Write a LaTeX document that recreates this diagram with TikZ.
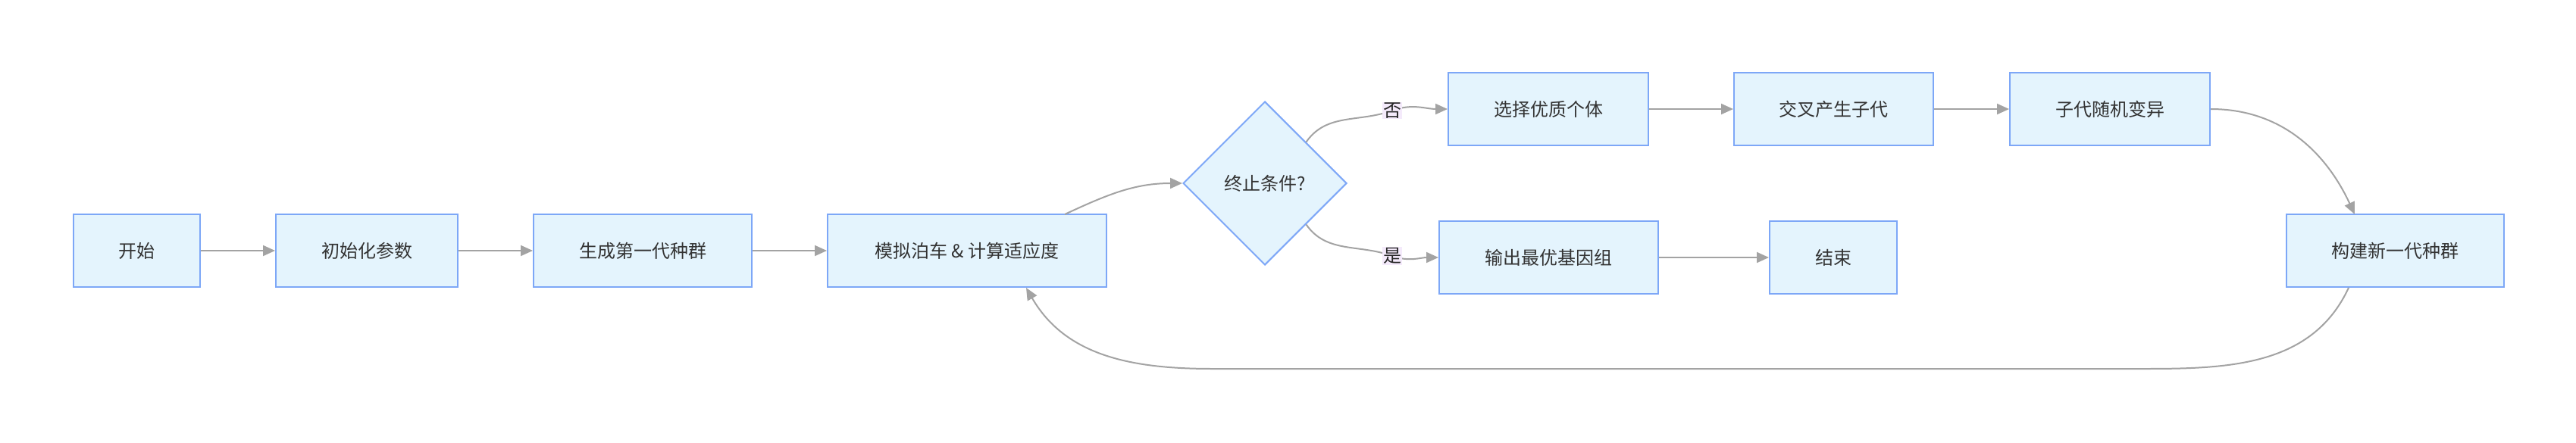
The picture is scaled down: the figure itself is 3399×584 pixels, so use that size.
\documentclass[tikz,border=0pt]{standalone}
\usepackage{fontspec}
\setmainfont{Noto Sans CJK SC}
\usetikzlibrary{shapes.geometric,arrows.meta}
\definecolor{boxfill}{HTML}{E4F4FD}
\definecolor{boxline}{HTML}{7DA7F7}
\definecolor{linkgray}{HTML}{A3A3A3}
\definecolor{labelbg}{HTML}{F4EAFB}
\tikzset{
  stepbox/.style={draw=boxline, fill=boxfill, line width=2pt, minimum height=96pt, inner sep=0pt,
    text=black!80, font=\fontsize{24}{28}\selectfont},
  link/.style={draw=linkgray, line width=2pt, -{Triangle[length=16pt,width=14pt]}},
  edgelabel/.style={fill=labelbg, inner sep=1pt, text=black!85, font=\fontsize{24}{28}\selectfont}
}
\newcommand{\StepBox}[4]{\node[stepbox, minimum width=#3pt] (#1) at #2 {#4};}

\begin{document}
\begin{tikzpicture}
\useasboundingbox (0,0) rectangle (3399pt,-584pt);

\StepBox{start}{(180.5pt,-331pt)}{167}{开始}
\StepBox{init}{(484pt,-331pt)}{240}{初始化参数}
\StepBox{gen}{(848pt,-331pt)}{288}{生成第一代种群}
\StepBox{sim}{(1276pt,-331pt)}{368}{模拟泊车 \& 计算适应度}
\node[diamond, draw=boxline, fill=boxfill, line width=2pt, shape aspect=1, minimum size=216pt, inner sep=0pt,
  text=black!80, font=\fontsize{24}{28}\selectfont] (stop) at (1669pt,-242pt) {终止条件?};

\StepBox{select}{(2043pt,-144pt)}{264}{选择优质个体}
\StepBox{cross}{(2419.5pt,-144pt)}{263}{交叉产生子代}
\StepBox{mutate}{(2784pt,-144pt)}{264}{子代随机变异}
\StepBox{output}{(2043.5pt,-340pt)}{289}{输出最优基因组}
\StepBox{finish}{(2419pt,-340pt)}{168}{结束}
\StepBox{build}{(3160.5pt,-331pt)}{287}{构建新一代种群}

\coordinate (simtop) at (1405pt,-283pt);
\coordinate (simbot) at (1354pt,-380pt);
\coordinate (buildtop) at (3107pt,-283pt);
\coordinate (buildbot) at (3099pt,-380pt);
\coordinate (loopR) at (2830pt,-487pt);
\coordinate (loopL) at (1600pt,-487pt);
\coordinate (nobend) at (1837pt,-146pt);
\coordinate (yesbend) at (1837pt,-338pt);

\draw[link] (start) -- (init);
\draw[link] (init) -- (gen);
\draw[link] (gen) -- (sim);
\draw[link] (simtop) to[out=25,in=180] (stop.west);
\draw[link] (stop.north east) to[out=55,in=200] (nobend) to[out=20,in=180] (select.west);
\draw[link] (stop.south east) to[out=-55,in=160] (yesbend) to[out=-20,in=180] (output.west);
\draw[link] (select) -- (cross);
\draw[link] (cross) -- (mutate);
\draw[link] (output) -- (finish);
\draw[link] (mutate.east) to[out=0,in=115] (buildtop);
\draw[link] (buildbot) to[out=-115,in=0] (loopR) -- (loopL) to[out=180,in=-60] (simbot);

\node[edgelabel] (no) at (nobend) {否};
\node[edgelabel] (yes) at (yesbend) {是};
\end{tikzpicture}
\end{document}
